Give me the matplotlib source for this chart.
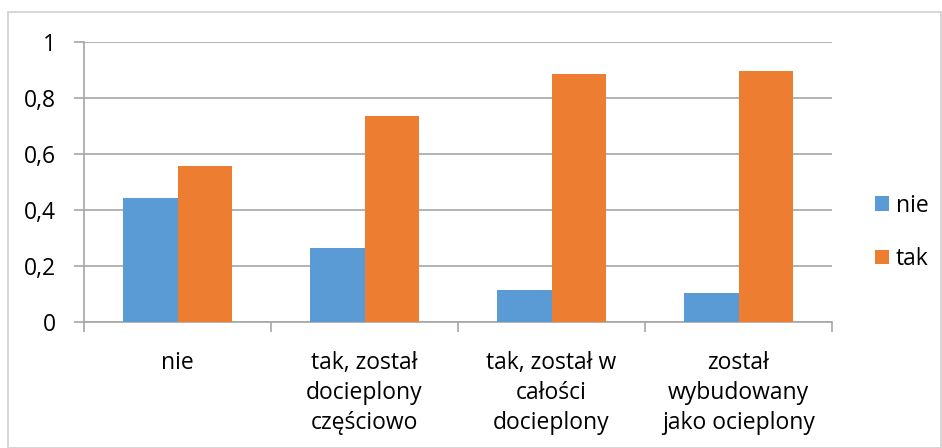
import matplotlib.pyplot as plt
import numpy as np
from matplotlib.patches import Rectangle

plt.rcParams['font.family'] = ['Open Sans', 'DejaVu Sans']

# Category labels and shares for each answer
categories = ["nie",
              "tak, został\ndocieplony\nczęściowo",
              "tak, został w\ncałości\ndocieplony",
              "został\nwybudowany\njako ocieplony"]
nie_values = [0.442, 0.265, 0.114, 0.102]
tak_values = [0.558, 0.735, 0.886, 0.898]
y_ticks = [0, 0.2, 0.4, 0.6, 0.8, 1]
y_tick_labels = ["0", "0,2", "0,4", "0,6", "0,8", "1"]

blue = "#5B9BD5"
orange = "#ED7D31"
grid_color = "#A6A6A6"
fs = 16.5

fig = plt.figure(figsize=(9.42, 4.48), dpi=100)
ax = fig.add_axes([84 / 942, 1 - 322 / 448, 748 / 942, 280 / 448])

x = np.arange(len(categories))
width = 0.289
ax.bar(x - width / 2, nie_values, width, color=blue, label="nie", zorder=3)
ax.bar(x + width / 2, tak_values, width, color=orange, label="tak", zorder=3)

ax.set_xlim(-0.5, len(categories) - 0.5)
ax.set_ylim(0, 1)
ax.set_yticks(y_ticks)
ax.set_yticklabels(y_tick_labels, fontsize=fs)
ax.yaxis.grid(True, color=grid_color, linewidth=1.2, zorder=0)

# category boundaries carry the x ticks, labels sit between them
ax.set_xticks(np.arange(-0.5, len(categories), 1))
ax.set_xticklabels([])
ax.set_xticks(x, minor=True)
ax.set_xticklabels(categories, minor=True, fontsize=fs, linespacing=1.33)
ax.tick_params(axis='x', which='minor', length=0, pad=21)
ax.tick_params(axis='x', which='major', length=7, color=grid_color, width=1.2)
ax.tick_params(axis='y', length=7, color=grid_color, width=1.2, pad=13)

for side in ["top", "right"]:
    ax.spines[side].set_visible(False)
for side in ["left", "bottom"]:
    ax.spines[side].set_color(grid_color)
    ax.spines[side].set_linewidth(1.2)

ax.legend(loc="center left", bbox_to_anchor=(1.03, 0.32), frameon=False,
          fontsize=fs, handlelength=0.6, handleheight=0.6,
          handletextpad=0.3, labelspacing=1.3)

# light frame around the whole chart
fig.patches.append(Rectangle((8 / 942, 0), 933 / 942, 1 - 12 / 448,
                             transform=fig.transFigure, fill=False,
                             edgecolor="#D0D0D0", linewidth=1.2))

fig.savefig("out.png", dpi=100)
